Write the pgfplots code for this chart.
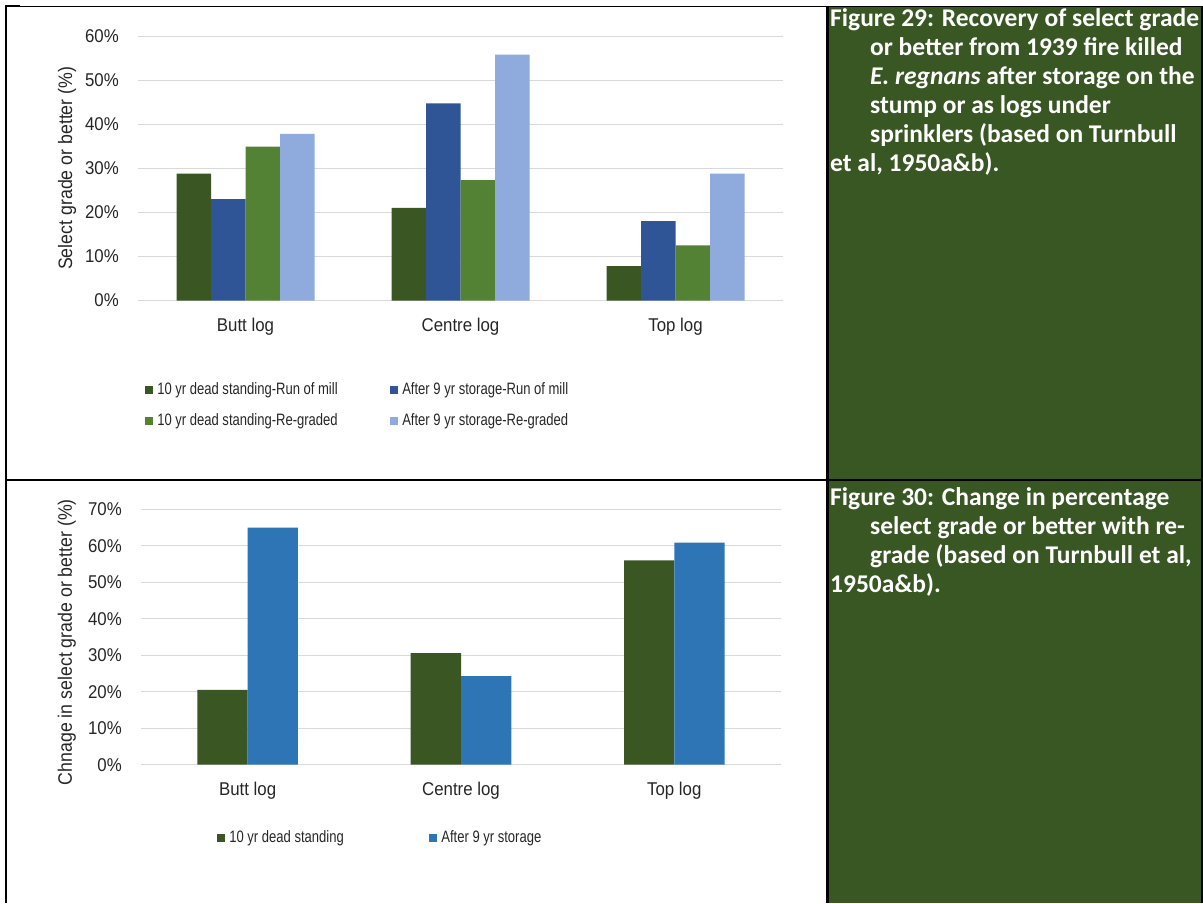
\documentclass[border=0pt]{standalone}
\usepackage{fontspec}
\setmainfont{Liberation Sans}
\newfontfamily\chartfont{Liberation Sans}[FakeStretch=0.91]
\newfontfamily\legfont{Liberation Sans}[FakeStretch=0.79]
\newfontfamily\capfont{Carlito}
\usepackage{pgfplots}
\pgfplotsset{compat=1.18}

\definecolor{dkgreen}{HTML}{3A5623}
\definecolor{navy}{HTML}{2F5597}
\definecolor{midgreen}{HTML}{548235}
\definecolor{paleblue}{HTML}{8FAADC}
\definecolor{stblue}{HTML}{2E75B6}
\definecolor{cellgreen}{HTML}{385723}
\definecolor{gridgray}{HTML}{D9D9D9}
\definecolor{labelgray}{HTML}{262626}

\newcommand{\lentry}[2]{\makebox[#1][l]{\legfont\fontsize{16.5}{18}\selectfont #2}}

\pgfplotsset{
  grbar/.style={
    scale only axis,
    xmin=-0.5, xmax=2.5,
    ymin=0,
    xtick={0,1,2},
    xticklabels={Butt log, Centre log, Top log},
    yticklabel={\pgfmathprintnumber{\tick}\%},
    /pgf/number format/assume math mode=true,
    ymajorgrids,
    grid style={draw=gridgray, line width=0.9pt},
    axis line style={draw=none},
    major tick length=0pt,
    tick label style={font=\chartfont\fontsize{18.5}{21}\selectfont, text=labelgray, inner sep=0pt},
    yticklabel style={anchor=east, xshift=-19pt},
    xticklabel style={anchor=center, yshift=-26pt},
    ybar=0pt,
    legend columns=2,
    legend image code/.code={\fill[##1,draw=none] (0pt,-4pt) rectangle (8pt,4pt);},
  }
}

\begin{document}
\begin{tikzpicture}
\path[use as bounding box] (0pt,0pt) rectangle (1203pt,-903pt);

% caption column
\fill[cellgreen] (828pt,-7pt) rectangle (1201pt,-903pt);

% top chart: select grade recovery
\begin{axis}[grbar,
  at={(138pt,-300.5pt)}, anchor=south west,
  width=645pt, height=264.5pt,
  ymax=60, ytick={0,10,...,60},
  bar width=34.5pt,
  every axis y label/.style={at={(axis description cs:-0.110,0.5)}, rotate=90, anchor=center,
    font=\chartfont\fontsize{19.5}{22}\selectfont, text=labelgray},
  ylabel={Select grade or better (\%)},
  legend style={draw=none, fill=none, inner sep=0pt,
    at={(axis description cs:0.011,-0.312)}, anchor=north west,
    text=labelgray,
    nodes={inner xsep=4pt, inner ysep=0pt, text height=11pt, text depth=3pt},
    row sep=17pt},
]
\addplot[fill=dkgreen, draw=none] coordinates {(0,28.8) (1,21.0) (2,7.8)};
\addplot[fill=navy, draw=none] coordinates {(0,23.0) (1,44.7) (2,18.0)};
\addplot[fill=midgreen, draw=none] coordinates {(0,34.9) (1,27.3) (2,12.5)};
\addplot[fill=paleblue, draw=none] coordinates {(0,37.8) (1,55.8) (2,28.8)};
\legend{\lentry{229pt}{10 yr dead standing-Run of mill}, \lentry{229pt}{After 9 yr storage-Run of mill},
        \lentry{229pt}{10 yr dead standing-Re-graded}, \lentry{229pt}{After 9 yr storage-Re-graded}}
\end{axis}

% bottom chart: change with re-grade
\begin{axis}[grbar,
  at={(141pt,-764.7pt)}, anchor=south west,
  width=640pt, height=255.4pt,
  ymax=70, ytick={0,10,...,70},
  bar width=50.3pt,
  every axis y label/.style={at={(axis description cs:-0.116,0.48)}, rotate=90, anchor=center,
    font=\chartfont\fontsize{19.5}{22}\selectfont, text=labelgray},
  ylabel={Chnage in select grade or better (\%)},
  legend style={draw=none, fill=none, inner sep=0pt,
    at={(axis description cs:0.119,-0.26)}, anchor=north west,
    text=labelgray,
    nodes={inner xsep=4pt, inner ysep=0pt, text height=11pt, text depth=3pt}},
]
\addplot[fill=dkgreen, draw=none] coordinates {(0,20.5) (1,30.6) (2,56.0)};
\addplot[fill=stblue, draw=none] coordinates {(0,65.0) (1,24.3) (2,60.9)};
\legend{\lentry{196pt}{10 yr dead standing}, \lentry{196pt}{After 9 yr storage}}
\end{axis}

% table rules
\draw[line width=1.2pt] (5pt,-6.5pt) -- (1202pt,-6.5pt);
\draw[line width=2pt] (5pt,-6pt) -- (20pt,-6pt);
\draw[line width=2pt] (6pt,-5.5pt) -- (6pt,-903pt);
\draw[line width=2.5pt] (5pt,-480pt) -- (1203pt,-480pt);
\draw[line width=3pt] (827pt,-5.5pt) -- (827pt,-903pt);
\draw[line width=2.5pt] (1201.8pt,-5.5pt) -- (1201.8pt,-903pt);

% captions
\begin{scope}[every node/.style={anchor=base west, inner sep=0pt, text=white,
    font=\capfont\bfseries\fontsize{25.5}{30}\selectfont}]
\node at (830pt,-26pt) {Figure 29: Recovery of select grade};
\node at (870pt,-55pt) {or better from 1939 fire killed};
\node at (870pt,-84pt) {\textit{E. regnans} after storage on the};
\node at (870pt,-113pt) {stump or as logs under};
\node at (870pt,-142pt) {sprinklers (based on Turnbull};
\node at (830pt,-171pt) {et al, 1950a\&b).};
\node at (830pt,-505pt) {Figure 30: Change in percentage};
\node at (870pt,-534pt) {select grade or better with re-};
\node at (870pt,-563pt) {grade (based on Turnbull et al,};
\node at (830pt,-592pt) {1950a\&b).};
\end{scope}
\end{tikzpicture}
\end{document}
